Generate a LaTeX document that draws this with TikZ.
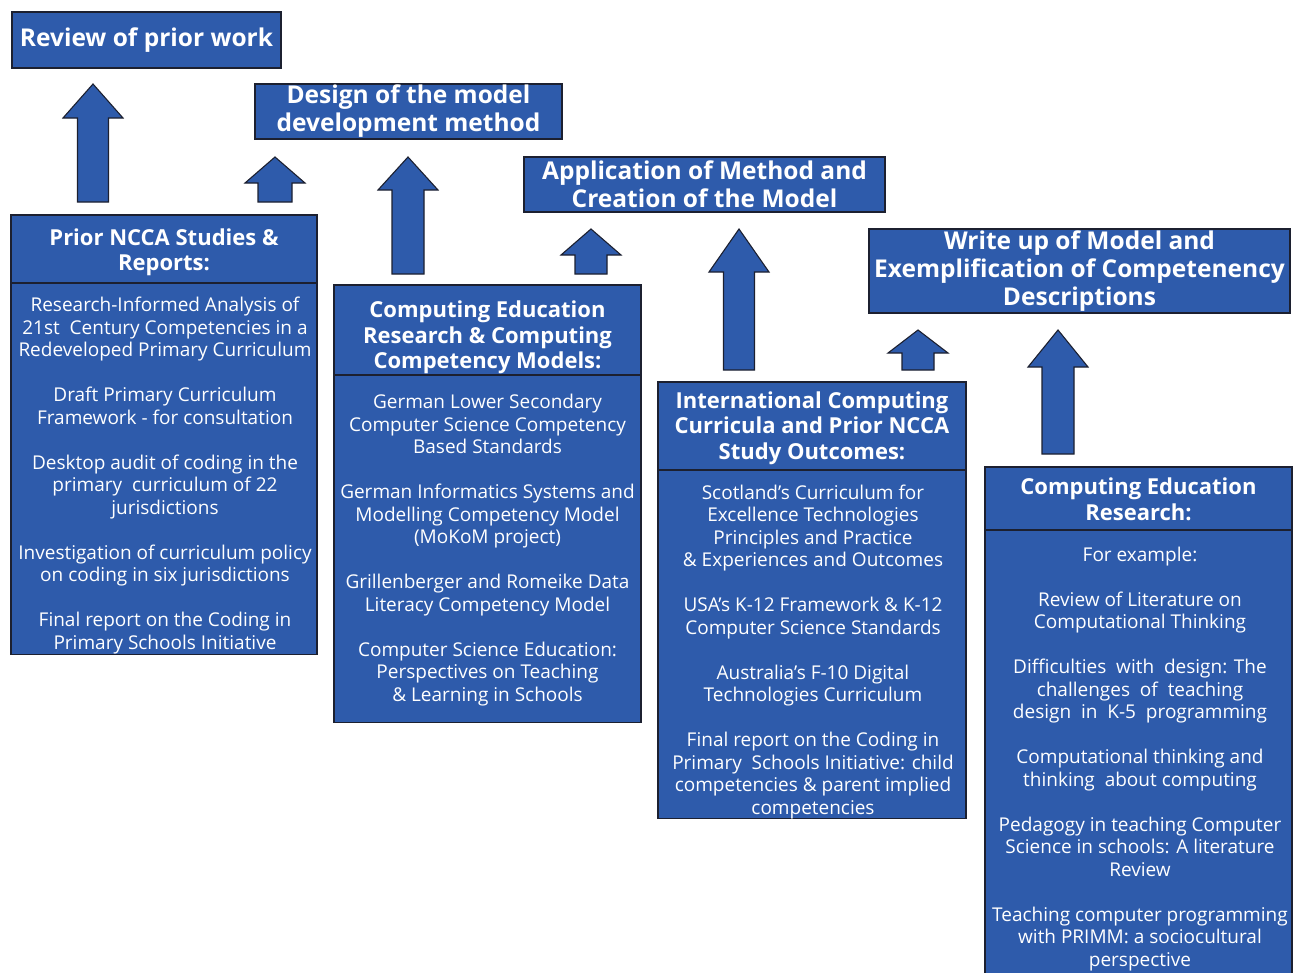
\documentclass[tikz,border=0pt]{standalone}
\usepackage{fontspec}
\setmainfont{Open Sans}
\definecolor{ncblue}{RGB}{46,91,171}
\definecolor{ncedge}{RGB}{28,32,48}
\newcommand\blkarrow[6]{% centre x, bottom y, head base y, tip y, shaft half width, head half width
  \path[blockarrow] ({#1-#5},#2) -- ({#1-#5},#3) -- ({#1-#6},#3) -- (#1,#4)
    -- ({#1+#6},#3) -- ({#1+#5},#3) -- ({#1+#5},#2) -- cycle;}
\begin{document}
\begin{tikzpicture}[x=1pt,y=-1pt,
  panel/.style={draw=ncedge, fill=ncblue, line width=1.3pt, inner sep=0pt,
    text=white, align=center},
  toptitle/.style={panel, font=\bfseries\fontsize{24.5}{28}\selectfont},
  coltitle/.style={text=white, align=center, inner sep=0pt,
    font=\bfseries\fontsize{22}{25.5}\selectfont},
  bodytext/.style={text=white, align=center, inner sep=0pt, anchor=north,
    font=\fontsize{19}{22.5}\selectfont},
  blockarrow/.style={fill=ncblue, draw=ncedge, line width=1.1pt, line join=miter}]
\useasboundingbox (0,0) rectangle (1304,972);
\clip (0,0) rectangle (1304,972);

% stage boxes along the top staircase
\node[toptitle, minimum width=269pt, minimum height=56pt] (review) at (146.5,40)
  {Review of prior work};
\node[toptitle, minimum width=307pt, minimum height=55pt] (design) at (408.5,111.5)
  {Design of the model\\development method};
\node[toptitle, minimum width=361pt, minimum height=55pt] (apply) at (704.5,184.5)
  {Application of Method and\\Creation of the Model};
\node[toptitle, minimum width=421pt, minimum height=84pt] (writeup) at (1079.5,271)
  {Write up of Model and\\Exemplification of Competenency\\Descriptions};

% column A: prior NCCA work
\node[panel, minimum width=306pt, minimum height=68pt] (headA) at (164,249) {};
\node[coltitle] (titleA) at (164,252.5) {Prior NCCA Studies \&\\Reports:};
\node[panel, minimum width=306pt, minimum height=371pt, anchor=north] (bodyA)
  at (164,283) {};
\node[bodytext] (textA) at (165,297) {Research-Informed Analysis of\\
  21st\ \ Century Competencies in a\\Redeveloped Primary Curriculum\\[22.5pt]
  Draft Primary Curriculum\\Framework - for consultation\\[22.5pt]
  Desktop audit of coding in the\\primary\ \ curriculum of 22\\jurisdictions\\[22.5pt]
  Investigation of curriculum policy\\on coding in six jurisdictions\\[22.5pt]
  Final report on the Coding in\\Primary Schools Initiative};

% column B: competency models
\node[panel, minimum width=307pt, minimum height=90pt] (headB) at (487.5,330) {};
\node[coltitle] (titleB) at (487.5,337.5)
  {Computing Education\\Research \& Computing\\Competency Models:};
\node[panel, minimum width=307pt, minimum height=347pt, anchor=north] (bodyB)
  at (487.5,375) {};
\node[bodytext] (textB) at (487.5,394) {German Lower Secondary\\
  Computer Science Competency\\Based Standards\\[22.5pt]
  German Informatics Systems and\\Modelling Competency Model\\(MoKoM project)\\[22.5pt]
  Grillenberger and Romeike Data\\Literacy Competency Model\\[22.5pt]
  Computer Science Education:\\Perspectives on Teaching\\\& Learning in Schools};

% column C: international curricula
\node[panel, minimum width=308pt, minimum height=88pt] (headC) at (812,426) {};
\node[coltitle] (titleC) at (812,428)
  {International Computing\\Curricula and Prior NCCA\\Study Outcomes:};
\node[panel, minimum width=308pt, minimum height=348pt, anchor=north] (bodyC)
  at (812,470) {};
\node[bodytext] (textC) at (813,484.5) {Scotland’s Curriculum for\\
  Excellence Technologies\\Principles and Practice\\\& Experiences and Outcomes\\[22.5pt]
  USA’s K-12 Framework \& K-12\\Computer Science Standards\\[22.5pt]
  Australia’s F-10 Digital\\Technologies Curriculum\\[22.5pt]
  Final report on the Coding in\\Primary\ \ Schools Initiative: child\\
  competencies \& parent implied\\competencies};

% column D: computing education research
\node[panel, minimum width=307pt, minimum height=63pt] (headD) at (1138.5,498.5) {};
\node[coltitle] (titleD) at (1138.5,499.5) {Computing Education\\Research:};
\node[panel, minimum width=307pt, minimum height=460pt, anchor=north] (bodyD)
  at (1138.5,530) {};
\node[bodytext] (textD) at (1140,546.5) {For example:\\[22.5pt]
  Review of Literature on\\Computational Thinking\\[22.5pt]
  Difficulties\ \ with\ \ design: The\\challenges\ \ of\ \ teaching\\
  design\ \ in\ \ K-5\ \ programming\\[22.5pt]
  Computational thinking and\\thinking\ \ about computing\\[22.5pt]
  Pedagogy in teaching Computer\\Science in schools: A literature\\Review\\[22.5pt]
  Teaching computer programming\\with PRIMM: a sociocultural\\perspective};

% upward block arrows feeding each stage
\blkarrow{93}{202}{118}{84}{15.5}{30}
\blkarrow{275}{202}{183}{157}{17}{30}
\blkarrow{408}{274}{190}{157}{16}{30}
\blkarrow{591}{274}{255}{229}{16}{30}
\blkarrow{739}{370}{272}{229}{15.5}{30}
\blkarrow{918}{370}{353}{330}{16}{30}
\blkarrow{1058}{454}{367}{330}{16}{30}
\end{tikzpicture}
\end{document}
